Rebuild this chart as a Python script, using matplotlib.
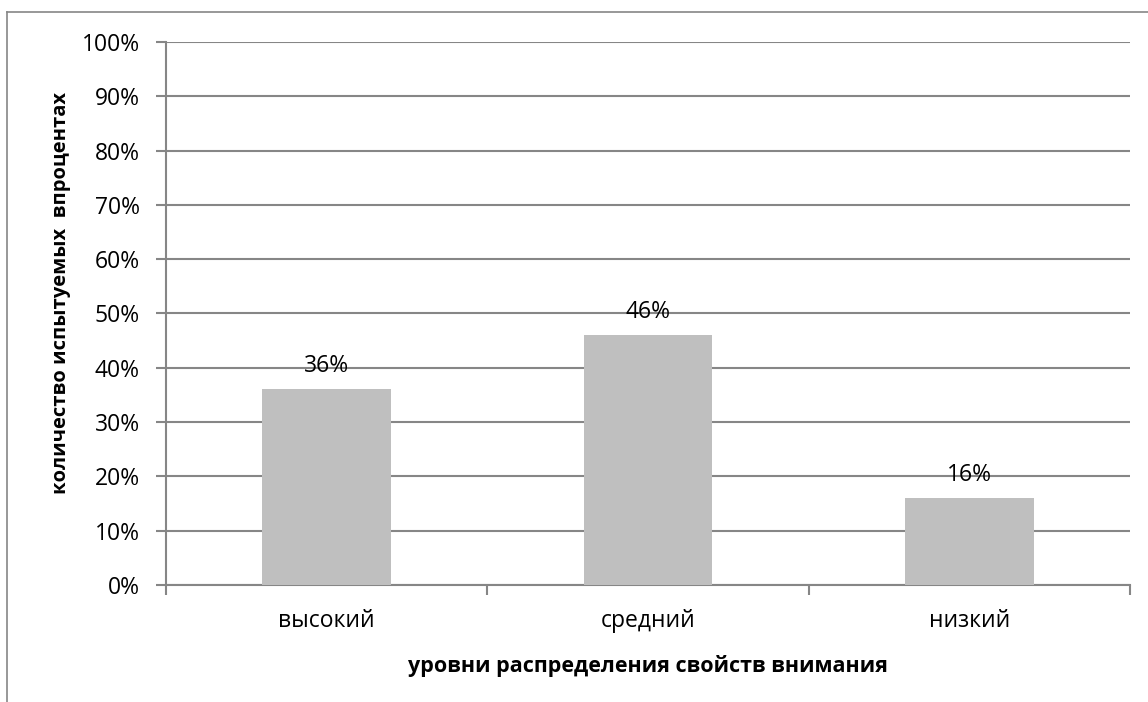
import matplotlib
matplotlib.use("Agg")
import matplotlib.pyplot as plt
from matplotlib.lines import Line2D
from matplotlib.ticker import FuncFormatter, MultipleLocator

plt.rcParams["font.family"] = ["Open Sans", "DejaVu Sans"]

levels = ["высокий", "средний", "низкий"]
shares = [36, 46, 16]

GRID = "#868686"
BAR = "#bfbfbf"

fig = plt.figure(figsize=(11.48, 7.02), dpi=100)
ax = fig.add_axes([0.1446, 0.1667, 0.8397, 0.7735])

x = range(len(levels))
ax.bar(x, shares, width=0.4, color=BAR, zorder=3)
for xi, v in zip(x, shares):
    ax.annotate(f"{v}%", (xi, v), xytext=(0, 8), textcoords="offset points",
                ha="center", va="bottom", fontsize=16.5, zorder=4)

ax.set_xlim(-0.5, len(levels) - 0.5)
ax.set_ylim(0, 100)
ax.yaxis.set_major_locator(MultipleLocator(10))
ax.yaxis.set_major_formatter(FuncFormatter(lambda v, _: f"{v:.0f}%"))
ax.yaxis.grid(True, color=GRID, linewidth=1.5, zorder=0)

# category labels between the boundary ticks
ax.set_xticks([i - 0.5 for i in range(len(levels) + 1)])
ax.set_xticklabels([])
ax.set_xticks(list(x), minor=True)
ax.set_xticklabels(levels, minor=True, fontsize=16.5)
ax.tick_params(axis="x", which="minor", length=0, pad=17)
ax.tick_params(axis="x", which="major", length=7, width=1.5, color=GRID)
ax.tick_params(axis="y", length=7, width=1.5, color=GRID, labelsize=16.5, pad=12)

for side in ("top", "right"):
    ax.spines[side].set_visible(False)
for side in ("left", "bottom"):
    ax.spines[side].set_color(GRID)
    ax.spines[side].set_linewidth(1.5)

ax.set_xlabel("уровни распределения свойств внимания", fontsize=15.5,
              fontweight="bold", labelpad=16)
ax.set_ylabel("количество испытуемых  впроцентах", fontsize=14.5,
              fontweight="bold")
ax.yaxis.set_label_coords(-0.099, 0.538)

# outer chart frame
fig.add_artist(Line2D([7 / 1148, 1], [1 - 12 / 702] * 2, color=GRID, lw=1.2,
                      transform=fig.transFigure))
fig.add_artist(Line2D([7 / 1148] * 2, [0, 1 - 12 / 702], color=GRID, lw=1.2,
                      transform=fig.transFigure))

fig.savefig("out.png", dpi=100)
